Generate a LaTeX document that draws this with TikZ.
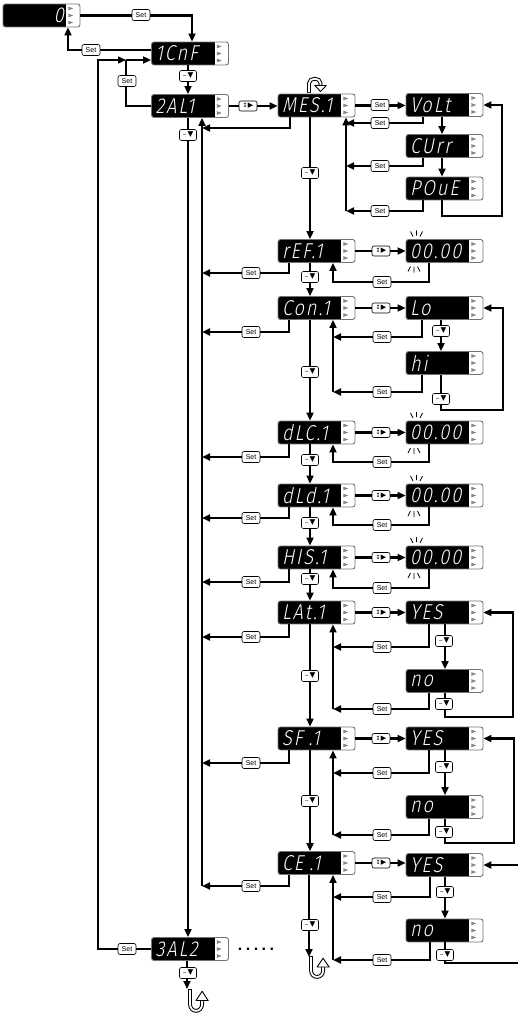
\documentclass[tikz,border=0pt]{standalone}
\usepackage{fontspec}
\setsansfont{Liberation Sans}
\newfontfamily\symf{DejaVu Sans}
\newfontfamily\segf[FakeSlant=0.2,FakeStretch=0.85,LetterSpace=9]{Fira Sans Light}
\usetikzlibrary{arrows.meta}
\newcommand\uturnicon[3]{%
 \begin{scope}[shift={#1},xscale=#2,yscale=#3]
  \draw[line width=3.8pt] (0,0) -- (0,13) .. controls (0,21) and (11,21) .. (11,13) -- (11,9);
  \draw[white,line width=1.8pt] (0,0.9) -- (0,13) .. controls (0,21) and (11,21) .. (11,13) -- (11,8);
  \draw[line width=0.9pt,fill=white,line join=round] (5.5,10) -- (16.5,10) -- (11,2) -- cycle;
 \end{scope}}
\newcommand\blinkmarks[2]{%
 \draw[line width=0.8pt] (#1-6,#2-11.5-8) -- (#1-3.5,#2-11.5-3) (#1,#2-11.5-9) -- (#1,#2-11.5-4) (#1+6,#2-11.5-8) -- (#1+3.5,#2-11.5-3);
 \draw[line width=0.8pt] (#1-2.5-6,#2+11.5+9) -- (#1-2.5-3.5,#2+11.5+4) (#1-2.5,#2+11.5+10) -- (#1-2.5,#2+11.5+4) (#1-2.5+6,#2+11.5+9) -- (#1-2.5+3.5,#2+11.5+4);}
\tikzset{
 disp/.style={draw=black!55, line width=0.9pt, rounded corners=2.5pt,
  minimum width=77pt, minimum height=23pt, inner xsep=4pt, inner ysep=0pt,
  text width=69pt, align=left, text=white,
  font=\segf\fontsize{21.5}{21.5}\selectfont,
  path picture={
   \fill[black,sharp corners] (path picture bounding box.south west) rectangle ([xshift=-14pt]path picture bounding box.north east);
   \foreach \d in {3,10,17}{
     \draw[sharp corners,line width=0.35pt, fill=black!45] ([xshift=-11.5pt,yshift={-\d*1pt}]path picture bounding box.north east) -- ++(0pt,-3pt) -- ++(4pt,1.5pt) -- cycle;}
  }},
 keybox/.style={draw, line width=0.6pt, rounded corners=2pt, fill=white, inner sep=0pt, minimum height=11pt},
 setk/.style={keybox, minimum width=18pt, font=\sffamily\fontsize{7}{7}\selectfont},
 dnk/.style={keybox, minimum width=17pt, font=\symf\fontsize{7.5}{7.5}\selectfont},
 udk/.style={keybox, minimum width=18pt, minimum height=10pt, font=\symf\fontsize{7}{7}\selectfont},
 ln/.style={line width=2.2pt},
 thn/.style={line width=1.5pt}
}
\begin{document}
\begin{tikzpicture}[x=1pt,y=-1pt,>={Triangle[length=8pt,width=7pt]}]
\useasboundingbox (0,0) rectangle (518,1016);
% displays
\node[disp,align=right] (b0) at (41.5,15.5) {0\hspace*{12pt}};
\node[disp] (cnf) at (190,53.5) {1CnF};
\node[disp] (al1) at (190,106) {2AL1};
\node[disp] (mes) at (316.5,105.5) {MES.1};
\node[disp] (volt) at (444.5,105) {VoLt};
\node[disp] (curr) at (444.5,146) {CUrr};
\node[disp] (poue) at (444.5,188.5) {POuE};
\node[disp] (ref) at (316.5,251) {rEF.1};
\node[disp] (refv) at (444.5,251) {00.00};
\node[disp] (con) at (316.5,308) {Con.1};
\node[disp] (lo) at (444.5,308) {Lo};
\node[disp] (hi) at (444.5,363) {hi};
\node[disp] (dlc) at (316.5,432.5) {dLC.1};
\node[disp] (dlcv) at (444.5,432.5) {00.00};
\node[disp] (dld) at (316.5,495.5) {dLd.1};
\node[disp] (dldv) at (444.5,495.5) {00.00};
\node[disp] (his) at (316.5,557.5) {HIS.1};
\node[disp] (hisv) at (444.5,557.5) {00.00};
\node[disp] (lat) at (316.5,612.5) {LAt.1};
\node[disp] (laty) at (444.5,612.5) {YES};
\node[disp] (latn) at (444.5,681) {no};
\node[disp] (sf) at (316.5,738.5) {SF\hspace{6pt}.1};
\node[disp] (sfy) at (444.5,738.5) {YES};
\node[disp] (sfn) at (444.5,807) {no};
\node[disp] (ce) at (316.5,863) {CE\hspace{6pt}.1};
\node[disp] (cey) at (444.5,865) {YES};
\node[disp] (cen) at (444.5,930.5) {no};
\node[disp] (al2) at (190,949) {3AL2};
% free ends
\coordinate (rbot) at (202,886);
\coordinate (lm) at (202,128);
\coordinate (l1) at (202,273);
\coordinate (l2) at (202,332);
\coordinate (l3) at (202,457);
\coordinate (l4) at (202,518);
\coordinate (l5) at (202,582);
\coordinate (l6) at (202,637);
\coordinate (l7) at (202,763);
\coordinate (j60) at (126,60);
\coordinate (m1) at (346,123);
\coordinate (m2) at (346,166);
\coordinate (m3) at (346,211);
\coordinate (c1) at (333,337);
\coordinate (c2) at (333,392);
\coordinate (a1) at (333,647);
\coordinate (a2) at (333,709);
\coordinate (f1) at (333,773);
\coordinate (f2) at (333,835);
\coordinate (e1) at (333,897);
\coordinate (e2) at (333,960);
\coordinate (ceend) at (518,963);
\coordinate (cein) at (518,865);
\coordinate (ceic) at (309,957);
\coordinate (alic) at (187,989);
% top part
\draw[ln,->] (b0.east) -| ([xshift=2pt]cnf.north);
\draw[ln,->] ([yshift=3.5pt]cnf.west) -| ([xshift=26.5pt]b0.south);
\draw[ln,->] ([xshift=-2pt]cnf.south) -- ([xshift=-2pt]al1.north);
\draw[ln,->] ([xshift=-2pt]al1.south) -- ([xshift=-2pt]al2.north);
\draw[ln,->] (al1.east) -- (al1.east -| mes.west);
\draw[ln,->] (mes.east) -- (mes.east -| volt.west);
\draw[thn,->] (al2.west) -| (98,60) -- (j60);
\draw[thn] (al1.west) -| (j60);
\draw[ln,->] (j60) -- ([yshift=-6.5pt]cnf.west);
% return column
\draw[ln,->] (rbot) -- ([xshift=12pt]al1.south);
\draw[ln,->] ([xshift=-26.5pt]mes.south) |- (lm);
\draw[ln,->] ([xshift=-27.5pt]ref.south) |- (l1);
\draw[ln,->] ([xshift=-27.5pt]con.south) |- (l2);
\draw[ln,->] ([xshift=-27.5pt]dlc.south) |- (l3);
\draw[ln,->] ([xshift=-27.5pt]dld.south) |- (l4);
\draw[ln,->] ([xshift=-27.5pt]his.south) |- (l5);
\draw[ln,->] ([xshift=-27.5pt]lat.south) |- (l6);
\draw[ln,->] ([xshift=-27.5pt]sf.south) |- (l7);
\draw[ln,->] ([xshift=-27.5pt]ce.south) |- (rbot);
% main chain
\draw[ln,->] ([xshift=-6.5pt]mes.south) -- ([xshift=-6.5pt]ref.north);
\draw[ln,->] ([xshift=-6.5pt]ref.south) -- ([xshift=-6.5pt]con.north);
\draw[ln,->] ([xshift=-6.5pt]con.south) -- ([xshift=-6.5pt]dlc.north);
\draw[ln,->] ([xshift=-6.5pt]dlc.south) -- ([xshift=-6.5pt]dld.north);
\draw[ln,->] ([xshift=-6.5pt]dld.south) -- ([xshift=-6.5pt]his.north);
\draw[ln,->] ([xshift=-6.5pt]his.south) -- ([xshift=-6.5pt]lat.north);
\draw[ln,->] ([xshift=-6.5pt]lat.south) -- ([xshift=-6.5pt]sf.north);
\draw[ln,->] ([xshift=-6.5pt]sf.south) -- ([xshift=-6.5pt]ce.north);
\draw[ln,->] ([xshift=-7.5pt]ce.south) -- (ceic);
\draw[ln,->] ([xshift=-3pt]al2.south) -- (alic);
% MES submenu
\draw[ln,->] ([xshift=-21.5pt]volt.south) |- (m1);
\draw[ln,->] ([xshift=-21.5pt]curr.south) |- (m2);
\draw[ln,->] ([xshift=-21.5pt]poue.south) |- (m3);
\draw[ln,->] (m3) -- ([xshift=29.5pt]mes.south);
\draw[ln,->] ([xshift=-2.5pt]volt.south) -- ([xshift=-2.5pt]curr.north);
\draw[ln,->] ([xshift=-2.5pt]curr.south) -- ([xshift=-2.5pt]poue.north);
\draw[ln,->] ([xshift=-2.5pt]poue.south) |- (502,216) |- (volt.east);
% value rows
\draw[ln,->] (ref.east) -- (refv.west);
\draw[ln,->] ([xshift=-15.5pt]refv.south) |- (333,282) -- ([xshift=16.5pt]ref.south);
\draw[ln,->] (dlc.east) -- (dlcv.west);
\draw[ln,->] ([xshift=-15.5pt]dlcv.south) |- (333,462) -- ([xshift=16.5pt]dlc.south);
\draw[ln,->] (dld.east) -- (dldv.west);
\draw[ln,->] ([xshift=-15.5pt]dldv.south) |- (333,525) -- ([xshift=16.5pt]dld.south);
\draw[ln,->] (his.east) -- (hisv.west);
\draw[ln,->] ([xshift=-15.5pt]hisv.south) |- (333,588) -- ([xshift=16.5pt]his.south);
% Con submenu
\draw[ln,->] (con.east) -- (lo.west);
\draw[ln,->] ([xshift=-22.5pt]lo.south) |- (c1);
\draw[ln,->] ([xshift=-22.5pt]hi.south) |- (c2);
\draw[ln,->] (c2) -- ([xshift=16.5pt]con.south);
\draw[ln,->] ([xshift=-3.5pt]lo.south) -- ([xshift=-3.5pt]hi.north);
\draw[ln,->] ([xshift=-3.5pt]hi.south) |- (503,410) |- (lo.east);
% LAt submenu
\draw[ln,->] (lat.east) -- (laty.west);
\draw[ln,->] ([xshift=-15.5pt]laty.south) |- (a1);
\draw[ln,->] ([xshift=-15.5pt]latn.south) |- (a2);
\draw[ln,->] (a2) -- ([xshift=16.5pt]lat.south);
\draw[ln,->] ([xshift=0.5pt]laty.south) -- ([xshift=0.5pt]latn.north);
\draw[ln,->] ([xshift=0.5pt]latn.south) |- (513,717) |- (laty.east);
% SF submenu
\draw[ln,->] (sf.east) -- (sfy.west);
\draw[ln,->] ([xshift=-15.5pt]sfy.south) |- (f1);
\draw[ln,->] ([xshift=-15.5pt]sfn.south) |- (f2);
\draw[ln,->] (f2) -- ([xshift=16.5pt]sf.south);
\draw[ln,->] ([xshift=0.5pt]sfy.south) -- ([xshift=0.5pt]sfn.north);
\draw[ln,->] ([xshift=0.5pt]sfn.south) |- (514,843) |- (sfy.east);
% CE submenu
\draw[ln,->] (ce.east) -- (ce.east -| cey.west);
\draw[ln,->] ([xshift=-14.5pt]cey.south) |- (e1);
\draw[ln,->] ([xshift=-14.5pt]cen.south) |- (e2);
\draw[ln,->] (e2) -- ([xshift=16.5pt]ce.south);
\draw[ln,->] ([xshift=0.5pt]cey.south) -- ([xshift=0.5pt]cen.north);
\draw[ln] ([xshift=0.5pt]cen.south) |- (ceend);
\draw[ln,->] (cein) -- (cey.east);
% blink marks
\blinkmarks{416.5}{251}
\blinkmarks{416.5}{432.5}
\blinkmarks{416.5}{495.5}
\blinkmarks{416.5}{557.5}
% icons
\uturnicon{(190,989)}{1.1}{1.15}
\uturnicon{(311,956)}{1.1}{1.1}
\uturnicon{(309,93)}{1.05}{-0.75}
% key labels
\foreach \p [count=\i] in {{141,15},{91,50},{127,81},{127,949},{380,105},{380,123},{380,166},{380,211},
  {251,273},{251,332},{251,457},{251,518},{251,582},{251,637},{251,763},{251,886},
  {382,282},{382,337},{382,392},{382,462},{382,525},{382,588},{382,647},{382,709},{382,773},{382,835},{382,897},{382,960}}
  \node[setk] (set\i) at (\p) {Set};
\foreach \p [count=\i] in {{188,76},{188,135},{310,173},{310,277},{310,372},{310,460},{310,523},{310,579},{310,676},{310,801},{310,925},
  {441,331},{441,399},{444,641},{444,704},{444,767},{444,832},{445,892},{445,955},{188,973}}
  \node[dnk] (dn\i) at (\p) {{\fontsize{5}{5}\selectfont ∼}\kern0.6pt▼};
\foreach \p [count=\i] in {{248,106},{381,251},{381,308},{381,432.5},{381,495.5},{381,557.5},{381,612.5},{381,738.5},{381,863}}
  \node[udk] (ud\i) at (\p) {{\fontsize{6}{6}\selectfont ↕}\kern0.3pt▶};
\node[font=\sffamily\bfseries\fontsize{16}{16}\selectfont] (dots) at (256,949) {.\hspace{3.5pt}.\hspace{3.5pt}.\hspace{3.5pt}.\hspace{3.5pt}.};
\end{tikzpicture}
\end{document}
